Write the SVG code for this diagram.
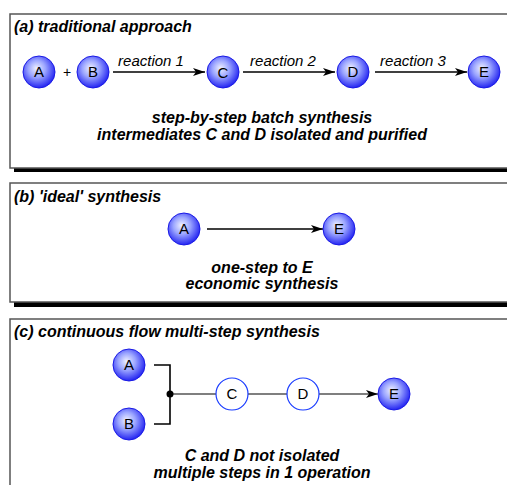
<svg xmlns="http://www.w3.org/2000/svg" width="507" height="485" viewBox="0 0 507 485">
<defs>
<radialGradient id="ball" cx="0.45" cy="0.42" r="0.6" fx="0.42" fy="0.38">
<stop offset="0" stop-color="#eef0ff"/>
<stop offset="0.45" stop-color="#9aa4ff"/>
<stop offset="1" stop-color="#1d1df0"/>
</radialGradient>
<marker id="arr" markerWidth="12" markerHeight="8" refX="12" refY="4" orient="auto" markerUnits="userSpaceOnUse">
<path d="M0,0 L12,4 L0,8 L3,4 Z" fill="#000"/>
</marker>
</defs>
<style>
.panel{fill:#fff;stroke:#555;stroke-width:1.5}
.shadow{fill:#000}
.title{font-family:"Liberation Sans",Arial,sans-serif;font-size:16px;font-weight:bold;font-style:italic;fill:#000}
.cap{font-family:"Liberation Sans",Arial,sans-serif;font-size:16px;font-weight:bold;font-style:italic;fill:#000;text-anchor:middle}
.lab{font-family:"Liberation Sans",Arial,sans-serif;font-size:15px;font-style:italic;fill:#000;text-anchor:middle}
.ball{fill:url(#ball);stroke:#1a1ae6;stroke-width:1}
.open{fill:#fff;stroke:#1a3cff;stroke-width:1.2}
.nt{font-family:"Liberation Sans",Arial,sans-serif;font-size:15px;fill:#000;text-anchor:middle}
.ln{stroke:#000;stroke-width:1.6;fill:none}
</style>
<g id="panel-a">
<rect class="shadow" x="14" y="167" width="500" height="5"/>
<rect class="panel" x="10" y="14" width="510" height="154"/>
<text class="title" x="14" y="32">(a) traditional approach</text>
<text class="cap" x="262" y="123">step-by-step batch synthesis</text>
<text class="cap" x="262" y="140">intermediates C and D isolated and purified</text>
</g>
<g id="panel-b">
<rect class="shadow" x="14" y="302" width="500" height="5"/>
<rect class="panel" x="10" y="183" width="510" height="119"/>
<text class="title" x="14" y="202">(b) 'ideal' synthesis</text>
<text class="cap" x="262" y="273">one-step to E</text>
<text class="cap" x="262" y="289">economic synthesis</text>
</g>
<g id="panel-c">
<rect class="panel" x="10" y="319" width="510" height="180"/>
<text class="title" x="14" y="337">(c) continuous flow multi-step synthesis</text>
<text class="cap" x="262" y="461">C and D not isolated</text>
<text class="cap" x="262" y="478">multiple steps in 1 operation</text>
</g>
<g id="connectors">
<text x="67" y="77" font-family="Liberation Sans, Arial, sans-serif" font-size="14" text-anchor="middle">+</text>
<line class="ln" x1="113" y1="72" x2="205" y2="72" marker-end="url(#arr)"/>
<text class="lab" x="151" y="66">reaction 1</text>
<line class="ln" x1="243" y1="72" x2="335" y2="72" marker-end="url(#arr)"/>
<text class="lab" x="283" y="66">reaction 2</text>
<line class="ln" x1="375" y1="72" x2="467" y2="72" marker-end="url(#arr)"/>
<text class="lab" x="413" y="66">reaction 3</text>
<line class="ln" x1="207" y1="229" x2="323" y2="229" marker-end="url(#arr)"/>
<polyline class="ln" points="154,365 170,365 170,424 154,424"/>
<circle cx="170" cy="394" r="3.5" fill="#000"/>
<line x1="170" y1="394" x2="216" y2="394" stroke="#000" stroke-width="1.2"/>
<line x1="248" y1="394" x2="287" y2="394" stroke="#000" stroke-width="1.2"/>
<line x1="319" y1="394" x2="378" y2="394" stroke="#000" stroke-width="1.2" marker-end="url(#arr)"/>
</g>
<g id="a-A"><circle class="ball" cx="39" cy="72" r="16"/><text class="nt" x="39" y="77">A</text></g>
<g id="a-B"><circle class="ball" cx="93" cy="72" r="16"/><text class="nt" x="93" y="77">B</text></g>
<g id="a-C"><circle class="ball" cx="223" cy="72" r="16"/><text class="nt" x="223" y="78">C</text></g>
<g id="a-D"><circle class="ball" cx="353" cy="72" r="16"/><text class="nt" x="353" y="77">D</text></g>
<g id="a-E"><circle class="ball" cx="484" cy="72" r="16"/><text class="nt" x="484" y="77">E</text></g>
<g id="b-A"><circle class="ball" cx="184" cy="229" r="16"/><text class="nt" x="184" y="234">A</text></g>
<g id="b-E"><circle class="ball" cx="339" cy="229" r="16"/><text class="nt" x="339" y="234">E</text></g>
<g id="c-A"><circle class="ball" cx="129" cy="365" r="16"/><text class="nt" x="129" y="370">A</text></g>
<g id="c-B"><circle class="ball" cx="129" cy="424" r="16"/><text class="nt" x="129" y="429">B</text></g>
<g id="c-C"><circle class="open" cx="232" cy="394" r="16"/><text class="nt" x="232" y="399">C</text></g>
<g id="c-D"><circle class="open" cx="303" cy="394" r="16"/><text class="nt" x="303" y="399">D</text></g>
<g id="c-E"><circle class="ball" cx="394" cy="394" r="16"/><text class="nt" x="394" y="399">E</text></g>
</svg>
